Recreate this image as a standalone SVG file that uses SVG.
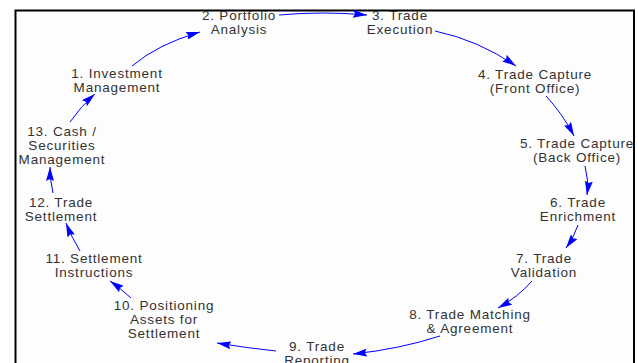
<svg xmlns="http://www.w3.org/2000/svg" width="638" height="363" viewBox="0 0 638 363">
<style>
.lbl{font-family:"Liberation Sans",Arial,sans-serif;font-size:13.5px;letter-spacing:0.8px;fill:#333;text-anchor:middle}
.con{fill:none;stroke:#0000ff;stroke-width:1}
</style>
<defs>
<marker id="ah" viewBox="0 0 14 8" refX="14" refY="4" markerWidth="14" markerHeight="8" markerUnits="userSpaceOnUse" orient="auto">
<path d="M0,0 L14,4 L0,8 L2,4 z" fill="#0000ff"/>
</marker>
</defs>
<rect x="0" y="0" width="638" height="363" fill="#ffffff"/>
<rect x="15.5" y="10.5" width="618.5" height="360" fill="#fdfdfd" stroke="#000" stroke-width="2"/>
<g id="connectors">
<path class="con" marker-end="url(#ah)" d="M132,66 Q158,44 200,32"/>
<path class="con" marker-end="url(#ah)" d="M279,15 Q323,11 367,15"/>
<path class="con" marker-end="url(#ah)" d="M435,31 Q478,40 516,66"/>
<path class="con" marker-end="url(#ah)" d="M546,96 Q562,113 574,136"/>
<path class="con" marker-end="url(#ah)" d="M585,166 Q589,180 587,195"/>
<path class="con" marker-end="url(#ah)" d="M578,225 Q574,237 566,248"/>
<path class="con" marker-end="url(#ah)" d="M532,281 Q518,297 498,308"/>
<path class="con" marker-end="url(#ah)" d="M440,336 Q400,349 353,354"/>
<path class="con" marker-end="url(#ah)" d="M276,351 Q247,348 217,343"/>
<path class="con" marker-end="url(#ah)" d="M131,298 Q120,288 110,281"/>
<path class="con" marker-end="url(#ah)" d="M80,251 Q72,238 66,223"/>
<path class="con" marker-end="url(#ah)" d="M53,193 Q50,180 50,167"/>
<path class="con" marker-end="url(#ah)" d="M70,122 Q80,107 95,94"/>
</g>
<g id="n1"><text class="lbl" x="117" y="78">1. Investment</text><text class="lbl" x="117" y="92">Management</text></g>
<g id="n2"><text class="lbl" x="239" y="20">2. Portfolio</text><text class="lbl" x="239" y="34">Analysis</text></g>
<g id="n3"><text class="lbl" x="400" y="20">3. Trade</text><text class="lbl" x="400" y="34">Execution</text></g>
<g id="n4"><text class="lbl" x="535" y="79">4. Trade Capture</text><text class="lbl" x="535" y="93">(Front Office)</text></g>
<g id="n5"><text class="lbl" x="577" y="148">5. Trade Capture</text><text class="lbl" x="577" y="162">(Back Office)</text></g>
<g id="n6"><text class="lbl" x="578" y="207">6. Trade</text><text class="lbl" x="578" y="221">Enrichment</text></g>
<g id="n7"><text class="lbl" x="544" y="263">7. Trade</text><text class="lbl" x="544" y="277">Validation</text></g>
<g id="n8"><text class="lbl" x="470" y="319">8. Trade Matching</text><text class="lbl" x="470" y="333">&amp; Agreement</text></g>
<g id="n9"><text class="lbl" x="317" y="351">9. Trade</text><text class="lbl" x="317" y="365">Reporting</text></g>
<g id="n10"><text class="lbl" x="164" y="310">10. Positioning</text><text class="lbl" x="164" y="324">Assets for</text><text class="lbl" x="164" y="338">Settlement</text></g>
<g id="n11"><text class="lbl" x="94" y="263">11. Settlement</text><text class="lbl" x="94" y="277">Instructions</text></g>
<g id="n12"><text class="lbl" x="61" y="207">12. Trade</text><text class="lbl" x="61" y="221">Settlement</text></g>
<g id="n13"><text class="lbl" x="62" y="136">13. Cash /</text><text class="lbl" x="62" y="150">Securities</text><text class="lbl" x="62" y="164">Management</text></g>
</svg>
